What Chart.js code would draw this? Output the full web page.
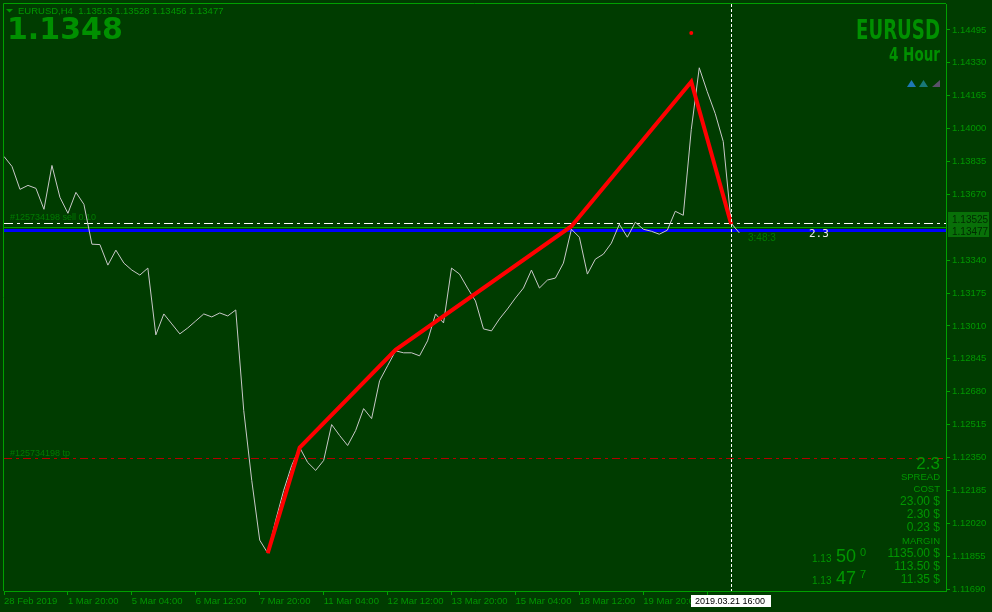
<!DOCTYPE html>
<html>
<head>
<meta charset="utf-8">
<script src="https://cdn.jsdelivr.net/npm/chart.js@4"></script>
<style>
html, body { margin: 0; padding: 0; background: #003c00; }
</style>
</head>
<body>
<canvas id="priceChart" width="992" height="612"></canvas>
<script>
// x tick labels, one every 8 H4 bars, first bar = 28 Feb 2019 12:00
const xTickLabels = ['28 Feb 2019', '1 Mar 20:00', '5 Mar 04:00', '6 Mar 12:00', '7 Mar 20:00',
    '11 Mar 04:00', '12 Mar 12:00', '13 Mar 20:00', '15 Mar 04:00', '18 Mar 12:00',
    '19 Mar 20:00', '21 Mar 04:00'];

// price scale labels
const yTickValues = [1.11690, 1.11855, 1.12020, 1.12185, 1.12350, 1.12515, 1.12680, 1.12845,
    1.13010, 1.13175, 1.13340, 1.13670, 1.13835, 1.14000, 1.14165, 1.14330, 1.14495];

// close price of every H4 bar
const closes = [
    1.13860, 1.13810, 1.13695, 1.13715, 1.13700, 1.13595, 1.13815, 1.13655, 1.13575, 1.13680,
    1.13620, 1.13420, 1.13418, 1.13315, 1.13390, 1.13325, 1.13290, 1.13265, 1.13300, 1.12965,
    1.13070, 1.13020, 1.12970, 1.13000, 1.13035, 1.13070, 1.13055, 1.13075, 1.13060, 1.13090,
    1.12585, 1.12235, 1.11935, 1.11870, 1.12035, 1.12185, 1.12310, 1.12400, 1.12325, 1.12285,
    1.12335, 1.12515, 1.12460, 1.12410, 1.12485, 1.12595, 1.12545, 1.12735, 1.12810, 1.12885,
    1.12875, 1.12875, 1.12860, 1.12935, 1.13070, 1.13025, 1.13300, 1.13270, 1.13200, 1.13135,
    1.12995, 1.12985, 1.13045, 1.13095, 1.13150, 1.13200, 1.13290, 1.13200, 1.13240, 1.13250,
    1.13325, 1.13495, 1.13455, 1.13270, 1.13345, 1.13370, 1.13425, 1.13520, 1.13455, 1.13530,
    1.13495, 1.13485, 1.13470, 1.13490, 1.13585, 1.13565, 1.13995, 1.14305, 1.14185, 1.14075,
    1.13935, 1.13525, 1.13477
];

// zigzag turning points (bar index, price)
const zigzagBars = [33, 37, 49, 71, 86, 91];
const zigzagPrices = [1.11870, 1.12400, 1.12890, 1.13510, 1.14235, 1.13520];

// arrow / signal dot
const signalBar = 86;
const signalPrice = 1.14480;

// horizontal levels
const orderPrice = 1.13525;   // #125734198 sell 0.10
const askPrice = 1.13505;
const bidPrice = 1.13493;
const tpPrice = 1.12345;      // #125734198 tp
const crossBar = 91;          // 2019.03.21 16:00

const GREEN = '#009600';
const DIM = '#007a00';
const FRAME = '#00a000';
const BG = '#003c00';

function txt(ctx, s, x, y, font, color, align) {
    ctx.font = font;
    ctx.fillStyle = color;
    ctx.textAlign = align || 'left';
    ctx.textBaseline = 'alphabetic';
    ctx.fillText(s, x, y);
}

// text squeezed to a given width, right aligned
function txtFit(ctx, s, xRight, y, font, color, width) {
    ctx.save();
    ctx.font = font;
    const w = ctx.measureText(s).width;
    ctx.translate(xRight, y);
    ctx.scale(width / w, 1);
    ctx.fillStyle = color;
    ctx.textAlign = 'right';
    ctx.textBaseline = 'alphabetic';
    ctx.fillText(s, 0, 0);
    ctx.restore();
}

function hLine(ctx, area, y, color, width, dash) {
    ctx.save();
    ctx.strokeStyle = color;
    ctx.lineWidth = width;
    ctx.setLineDash(dash || []);
    ctx.beginPath();
    ctx.moveTo(area.left, y);
    ctx.lineTo(area.right, y);
    ctx.stroke();
    ctx.restore();
}

const terminalPlugin = {
    id: 'terminal',
    beforeDraw(chart) {
        const ctx = chart.ctx;
        ctx.save();
        ctx.fillStyle = BG;
        ctx.fillRect(0, 0, chart.width, chart.height);
        ctx.restore();
    },
    beforeDatasetsDraw(chart) {
        const ctx = chart.ctx;
        const a = chart.chartArea;
        const y = chart.scales.y;
        const py = v => Math.round(y.getPixelForValue(v));

        hLine(ctx, a, py(tpPrice) + 0.5, '#b40000', 1, [8, 4, 3, 4]);
        hLine(ctx, a, py(orderPrice) + 0.5, '#ffffff', 1, [9, 4, 3, 4]);
        hLine(ctx, a, py(askPrice) + 0.5, '#00a000', 1);
        hLine(ctx, a, py(bidPrice) + 0.5, '#0000ff', 3);

        txt(ctx, '#125734198 sell 0.10', 10, py(orderPrice) - 3, '9px "Liberation Sans"', DIM);
        txt(ctx, '#125734198 tp', 10, py(tpPrice) - 2, '9px "Liberation Sans"', DIM);
    },
    afterDatasetsDraw(chart) {
        const ctx = chart.ctx;
        const a = chart.chartArea;
        const x = Math.round(chart.scales.x.getPixelForValue(crossBar)) + 0.5;
        ctx.save();
        ctx.strokeStyle = '#ffffff';
        ctx.lineWidth = 1;
        ctx.setLineDash([3, 2]);
        ctx.beginPath();
        ctx.moveTo(x, a.top);
        ctx.lineTo(x, a.bottom);
        ctx.stroke();
        ctx.restore();
    },
    afterDraw(chart) {
        const ctx = chart.ctx;
        const a = chart.chartArea;
        const ys = chart.scales.y;
        const xs = chart.scales.x;

        // frame left / top
        ctx.save();
        ctx.strokeStyle = FRAME;
        ctx.lineWidth = 1;
        ctx.beginPath();
        ctx.moveTo(a.left - 0.5, a.bottom);
        ctx.lineTo(a.left - 0.5, a.top - 0.5);
        ctx.lineTo(a.right, a.top - 0.5);
        ctx.stroke();
        ctx.restore();

        // header
        ctx.fillStyle = GREEN;
        ctx.beginPath();
        ctx.moveTo(6, 9); ctx.lineTo(13, 9); ctx.lineTo(9.5, 12.5); ctx.closePath();
        ctx.fill();
        txt(ctx, 'EURUSD,H4  1.13513 1.13528 1.13456 1.13477', 18, 14, '9.5px "Liberation Sans"', GREEN);
        txt(ctx, '1.1348', 7, 39, 'bold 30px "DejaVu Sans"', '#009000');

        txtFit(ctx, 'EURUSD', 940, 39, 'bold 26px "DejaVu Sans"', '#009000', 84);
        txtFit(ctx, '4 Hour', 940, 61, 'bold 20px "DejaVu Sans"', '#009000', 51);

        // trend triangles
        const tri = (x0, x1, col, half) => {
            ctx.fillStyle = col;
            ctx.beginPath();
            if (half) {
                ctx.moveTo(x0, 87); ctx.lineTo(x1, 80); ctx.lineTo(x1, 87);
            } else {
                ctx.moveTo(x0, 87); ctx.lineTo((x0 + x1) / 2, 80); ctx.lineTo(x1, 87);
            }
            ctx.closePath();
            ctx.fill();
        };
        tri(907, 916, '#1e78b4', false);
        tri(919, 928, '#187878', false);
        tri(932, 940, '#5a506a', true);

        // info panel
        txt(ctx, '2.3', 940, 469, '17px "Liberation Sans"', GREEN, 'right');
        txt(ctx, 'SPREAD', 940, 480, '9.5px "Liberation Sans"', GREEN, 'right');
        txt(ctx, 'COST', 940, 492, '9.5px "Liberation Sans"', GREEN, 'right');
        txt(ctx, '23.00 $', 940, 505, '12px "Liberation Sans"', GREEN, 'right');
        txt(ctx, '2.30 $', 940, 518, '12px "Liberation Sans"', GREEN, 'right');
        txt(ctx, '0.23 $', 940, 531, '12px "Liberation Sans"', GREEN, 'right');
        txt(ctx, 'MARGIN', 940, 544, '9.5px "Liberation Sans"', GREEN, 'right');
        txt(ctx, '1135.00 $', 940, 557, '12px "Liberation Sans"', GREEN, 'right');
        txt(ctx, '113.50 $', 940, 570, '12px "Liberation Sans"', GREEN, 'right');
        txt(ctx, '11.35 $', 940, 583, '12px "Liberation Sans"', GREEN, 'right');

        // ask / bid quotes
        txt(ctx, '1.13', 812, 562, '10px "Liberation Sans"', GREEN);
        txt(ctx, '50', 836, 562, '18px "Liberation Sans"', GREEN);
        txt(ctx, '0', 860, 556, '11px "Liberation Sans"', GREEN);
        txt(ctx, '1.13', 812, 584, '10px "Liberation Sans"', GREEN);
        txt(ctx, '47', 836, 584, '18px "Liberation Sans"', GREEN);
        txt(ctx, '7', 860, 578, '11px "Liberation Sans"', GREEN);

        // bar timer and spread near the price
        const bidY = Math.round(ys.getPixelForValue(bidPrice));
        txt(ctx, '3:48:3', 748, bidY + 11, '10px "Liberation Sans"', DIM);
        txt(ctx, '2.3', 809, bidY + 7, '11px "DejaVu Sans Mono"', '#e8e8e8');

        // price boxes on the right scale
        const box = (v, label) => {
            const yy = Math.round(ys.getPixelForValue(v));
            ctx.fillStyle = '#087008';
            ctx.fillRect(948, yy - 7, 41, 13);
            txt(ctx, label, 952, yy + 4, '10px "Liberation Sans"', '#002a00');
        };
        box(orderPrice + 0.00020, '1.13525');
        box(bidPrice - 0.00007, '1.13477');

        // crosshair time box
        const cx = Math.round(xs.getPixelForValue(crossBar));
        ctx.fillStyle = '#ffffff';
        ctx.fillRect(cx - 40, 595, 80, 12);
        txt(ctx, '2019.03.21 16:00', cx - 36, 604, '9px "Liberation Sans"', '#000000');
    }
};

const ctx = document.getElementById('priceChart').getContext('2d');

new Chart(ctx, {
    type: 'line',
    data: {
        datasets: [
            {
                label: 'zigzag',
                data: zigzagBars.map((b, k) => ({ x: b, y: zigzagPrices[k] })),
                borderColor: '#ff0000',
                borderWidth: 4,
                pointRadius: 0,
                tension: 0
            },
            {
                label: 'EURUSD,H4',
                data: closes.map((v, i) => ({ x: i, y: v })),
                borderColor: '#c8c8c8',
                borderWidth: 1,
                pointRadius: 0,
                tension: 0
            },
            {
                label: 'signal',
                data: [{ x: signalBar, y: signalPrice }],
                showLine: false,
                pointRadius: 2,
                pointBackgroundColor: '#ff0000',
                pointBorderWidth: 0
            }
        ]
    },
    options: {
        responsive: false,
        animation: false,
        events: [],
        layout: { padding: { left: 3, top: 2, right: 0, bottom: 0 } },
        plugins: { legend: { display: false }, tooltip: { enabled: false } },
        scales: {
            x: {
                type: 'linear',
                position: 'bottom',
                min: 0,
                max: 117.875,
                afterBuildTicks: s => { s.ticks = xTickLabels.map((_, k) => ({ value: k * 8 })); },
                afterFit: s => { s.height = 21; s.paddingLeft = 0; s.paddingRight = 0; },
                grid: { drawOnChartArea: false, drawTicks: true, tickLength: 4, color: FRAME },
                border: { display: true, color: FRAME },
                ticks: {
                    autoSkip: false,
                    maxRotation: 0,
                    align: 'start',
                    padding: 1,
                    color: GREEN,
                    font: { family: 'Liberation Sans', size: 9.5 },
                    callback: v => xTickLabels[v / 8]
                }
            },
            y: {
                type: 'linear',
                position: 'right',
                min: 1.1168,
                max: 1.14625,
                afterBuildTicks: s => { s.ticks = yTickValues.map(v => ({ value: v })); },
                afterFit: s => { s.width = 46; s.paddingTop = 0; s.paddingBottom = 0; },
                grid: { drawOnChartArea: false, drawTicks: true, tickLength: 4, color: FRAME },
                border: { display: true, color: FRAME },
                ticks: {
                    padding: 2,
                    color: GREEN,
                    font: { family: 'Liberation Sans', size: 9.5 },
                    callback: v => v.toFixed(5)
                }
            }
        }
    },
    plugins: [terminalPlugin]
});
</script>
</body>
</html>
